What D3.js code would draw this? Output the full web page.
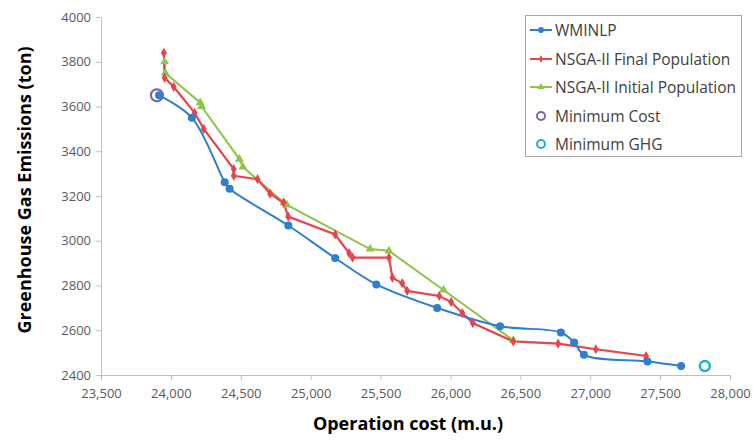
<!DOCTYPE html>
<html>
<head>
<meta charset="utf-8">
<script src="https://cdn.jsdelivr.net/npm/d3@7/dist/d3.min.js"></script>
<style>
  body { margin: 0; background: #fff; }
  svg { display: block; }
</style>
</head>
<body>
<svg id="chart" width="753" height="441"></svg>
<script>
// ---- data ----
const xTicks = [23500, 24000, 24500, 25000, 25500, 26000, 26500, 27000, 27500, 28000];
const yTicks = [2400, 2600, 2800, 3000, 3200, 3400, 3600, 3800, 4000];

const wminlpCost = [23915, 24150, 24385, 24420, 24840, 25175, 25470, 25905, 26355, 26790, 26885, 26955, 27410, 27650];
const wminlpGHG  = [3650, 3550, 3262, 3232, 3068, 2923, 2805, 2700, 2618, 2590, 2545, 2490, 2460, 2440];

const finalCost = [23950, 23955, 24020, 24170, 24235, 24450, 24450, 24620, 24710, 24805, 24840, 25175, 25275, 25300, 25560, 25585, 25655, 25690, 25920, 26005, 26085, 26160, 26450, 26770, 27040, 27400, 27400];
const finalGHG  = [3840, 3728, 3688, 3572, 3500, 3320, 3290, 3275, 3210, 3170, 3108, 3028, 2945, 2925, 2925, 2835, 2810, 2776, 2753, 2726, 2677, 2632, 2550, 2540, 2515, 2485, 2470];

const initCost = [23955, 23960, 24210, 24220, 24490, 24515, 24810, 24830, 25425, 25560, 25950, 26450];
const initGHG  = [3800, 3750, 3617, 3600, 3365, 3330, 3170, 3160, 2963, 2955, 2780, 2555];

const minCost = [23900, 3650];
const minGHG  = [27820, 2440];

const seriesNames = ["WMINLP", "NSGA-II Final Population", "NSGA-II Initial Population", "Minimum Cost", "Minimum GHG"];

// ---- styles ----
const C = { blue: "#2e7fd0", red: "#e5454c", green: "#8fc449", purple: "#8064a2", cyan: "#1fafc8", axis: "#bfbfbf" };

const svg = d3.select("#chart");
const x = d3.scaleLinear().domain([23500, 28000]).range([101, 730]);
const y = d3.scaleLinear().domain([2400, 4000]).range([375, 17]);

// axes
const xAxis = d3.axisBottom(x).tickValues(xTicks).tickSize(5).tickSizeOuter(0).tickFormat(d3.format(","));
const yAxis = d3.axisLeft(y).tickValues(yTicks).tickSize(5).tickSizeOuter(0).tickFormat(d3.format("d"));

const gx = svg.append("g").attr("transform", "translate(0,375)").call(xAxis);
const gy = svg.append("g").attr("transform", "translate(101,0)").call(yAxis);
[gx, gy].forEach(g => {
  g.select(".domain").attr("stroke", C.axis).attr("stroke-width", 1);
  g.selectAll(".tick line").attr("stroke", C.axis);
  g.selectAll(".tick text").attr("fill", "#595959").style("font-family", "'Open Sans', sans-serif").style("font-size", "13px");
});
gx.selectAll(".tick text").attr("dy", "1.15em");
gy.selectAll(".tick text").attr("x", -10);

// axis titles
svg.append("text").attr("x", 408).attr("y", 430).attr("text-anchor", "middle")
  .style("font-family", "'Open Sans', sans-serif").style("font-weight", "bold").style("font-size", "18px").attr("fill", "#000")
  .text("Operation cost (m.u.)");
svg.append("text").attr("transform", "translate(31,190) rotate(-90)").attr("text-anchor", "middle")
  .style("font-family", "'Open Sans', sans-serif").style("font-weight", "bold").style("font-size", "18px").attr("fill", "#000")
  .text("Greenhouse Gas Emissions (ton)");

const zip = (a, b) => a.map((v, i) => [v, b[i]]);
const wminlp = zip(wminlpCost, wminlpGHG);
const fin = zip(finalCost, finalGHG);
const ini = zip(initCost, initGHG);

const lineSmooth = d3.line().x(d => x(d[0])).y(d => y(d[1])).curve(d3.curveCatmullRom.alpha(0.5));
const lineStraight = d3.line().x(d => x(d[0])).y(d => y(d[1]));

// min cost ring (beneath)
svg.append("circle").attr("cx", x(minCost[0])).attr("cy", y(minCost[1])).attr("r", 6)
  .attr("fill", "none").attr("stroke", C.purple).attr("stroke-width", 2.2);

// lines
svg.append("path").attr("d", lineStraight(ini)).attr("fill", "none").attr("stroke", C.green).attr("stroke-width", 2);
svg.append("path").attr("d", lineStraight(fin)).attr("fill", "none").attr("stroke", C.red).attr("stroke-width", 2.2);
svg.append("path").attr("d", lineSmooth(wminlp)).attr("fill", "none").attr("stroke", C.blue).attr("stroke-width", 2);

const tri = d3.symbol().type(d3.symbolTriangle).size(34);
const dia = d3.symbol().type(d3.symbolDiamond).size(30);

svg.append("g").selectAll("path").data(ini).join("path")
  .attr("d", tri).attr("transform", d => `translate(${x(d[0])},${y(d[1])})`).attr("fill", C.green);
svg.append("g").selectAll("path").data(fin).join("path")
  .attr("d", dia).attr("transform", d => `translate(${x(d[0])},${y(d[1])})`).attr("fill", C.red);
svg.append("g").selectAll("circle").data(wminlp).join("circle")
  .attr("cx", d => x(d[0])).attr("cy", d => y(d[1])).attr("r", 4).attr("fill", C.blue);

// min GHG ring
svg.append("circle").attr("cx", x(minGHG[0])).attr("cy", y(minGHG[1])).attr("r", 5)
  .attr("fill", "none").attr("stroke", C.cyan).attr("stroke-width", 2.5);

// legend
const lg = svg.append("g");
lg.append("rect").attr("x", 525.5).attr("y", 15.5).attr("width", 216).attr("height", 141)
  .attr("fill", "#fff").attr("stroke", "#a6a6a6").attr("stroke-width", 1);
const ly = [30, 59, 87, 116, 144];
const kinds = [
  { color: C.blue, line: true, mark: "circle" },
  { color: C.red, line: true, mark: "diamond" },
  { color: C.green, line: true, mark: "triangle" },
  { color: C.purple, line: false, mark: "ring" },
  { color: C.cyan, line: false, mark: "ring" }
];
seriesNames.forEach((name, i) => {
  const k = kinds[i], yy = ly[i];
  if (k.line) lg.append("line").attr("x1", 530).attr("x2", 552).attr("y1", yy).attr("y2", yy).attr("stroke", k.color).attr("stroke-width", 2);
  if (k.mark === "circle") lg.append("circle").attr("cx", 541).attr("cy", yy).attr("r", 3).attr("fill", k.color);
  if (k.mark === "diamond") lg.append("path").attr("d", d3.symbol().type(d3.symbolDiamond).size(16)).attr("transform", `translate(541,${yy})`).attr("fill", k.color);
  if (k.mark === "triangle") lg.append("path").attr("d", d3.symbol().type(d3.symbolTriangle).size(20)).attr("transform", `translate(541,${yy})`).attr("fill", k.color);
  if (k.mark === "ring") lg.append("circle").attr("cx", 541).attr("cy", yy).attr("r", 4).attr("fill", "none").attr("stroke", k.color).attr("stroke-width", 2);
  lg.append("text").attr("x", 555).attr("y", yy).attr("dy", "0.36em")
    .style("font-family", "'Open Sans', sans-serif").style("font-size", "15.5px").attr("fill", "#404040")
    .text(name);
});
</script>
</body>
</html>
